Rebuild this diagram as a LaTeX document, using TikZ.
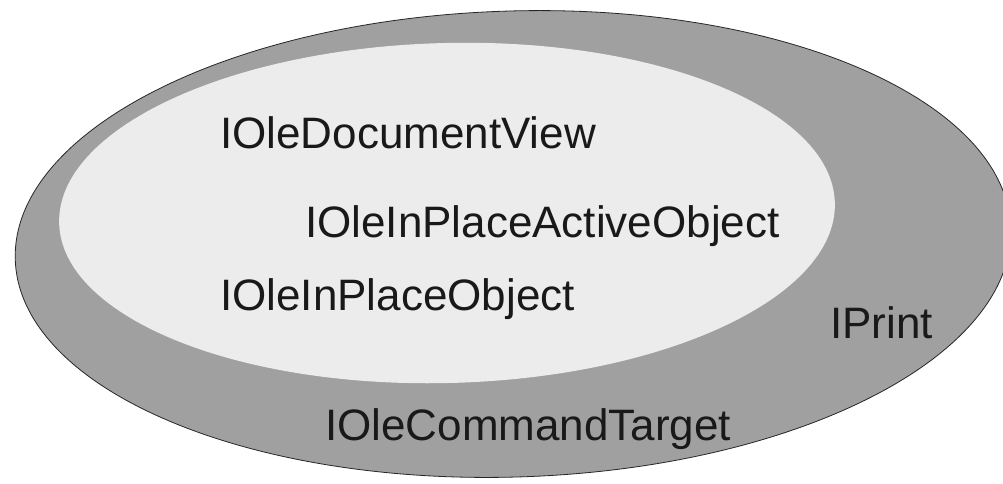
\documentclass[tikz,border=0pt]{standalone}
\usepackage{fontspec}
\setmainfont{Liberation Sans}
\begin{document}
\begin{tikzpicture}[x=1pt,y=-1pt,
  outerset/.style={fill=outergray, draw=black!85, line width=0.8pt},
  innerset/.style={fill=innergray},
  iface/.style={anchor=base west, inner sep=0pt, font=\fontsize{44}{44}\selectfont, text=black!90}]
\definecolor{outergray}{HTML}{A0A0A0}
\definecolor{innergray}{HTML}{ECECEC}
\useasboundingbox (0,0) rectangle (1003,483);
\fill[white] (0,0) rectangle (1003,483);
\begin{scope}
\clip (0,0) rectangle (1003,483);
\path[outerset, rotate around={1.8:(513,244)}] (513,244) ellipse [x radius=498pt, y radius=233pt];
\end{scope}
\path[innerset, rotate around={1.5:(447,213)}] (447,213) ellipse [x radius=388pt, y radius=170pt];
\node[iface] (docview) at (220,148) {IOleDocumentView};
\node[iface] (ipao) at (305,237) {IOleInPlaceActiveObject};
\node[iface] (ipo) at (220,310) {IOleInPlaceObject};
\node[iface] (print) at (830,338) {IPrint};
\node[iface] (cmdtgt) at (325,440) {IOleCommandTarget};
\end{tikzpicture}
\end{document}
